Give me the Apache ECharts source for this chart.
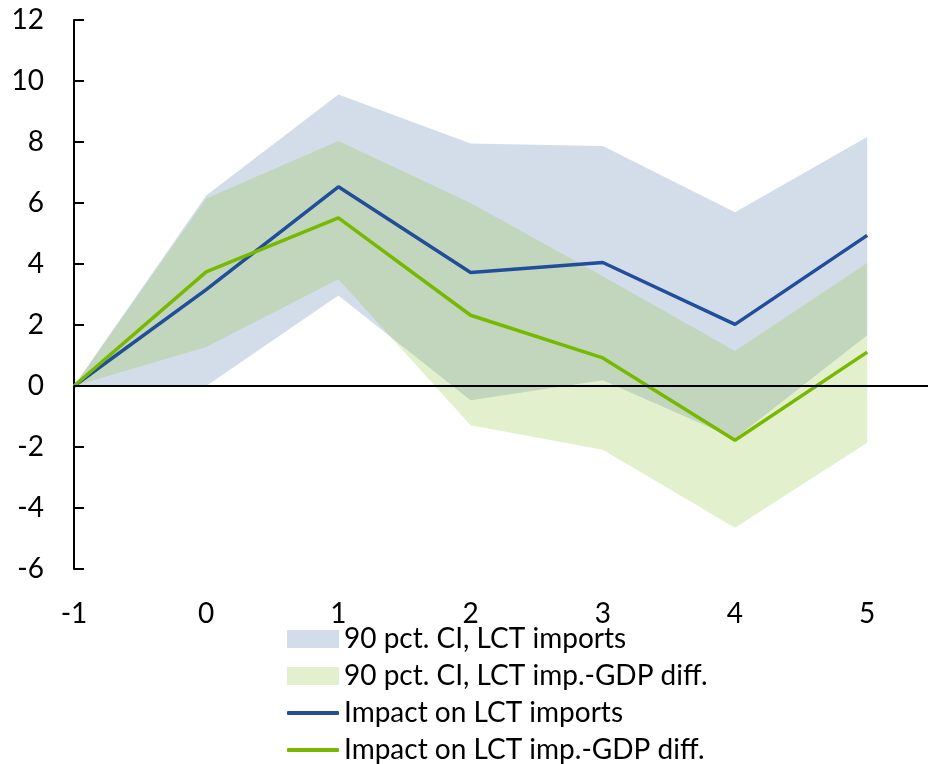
<!DOCTYPE html>
<html>
<head>
<meta charset="utf-8">
<script src="https://cdn.jsdelivr.net/npm/echarts@6/dist/echarts.min.js"></script>
<style>
  html, body { margin: 0; padding: 0; background: #fff; }
  #chart { width: 928px; height: 764px; }
</style>
</head>
<body>
<div id="chart"></div>
<script>
// Horizon (years after the shock)
const horizons = [-1, 0, 1, 2, 3, 4, 5];
const yTicks = [-6, -4, -2, 0, 2, 4, 6, 8, 10, 12];

// Impact on LCT imports and its 90% confidence band
const importsLine  = [0, 3.16, 6.53, 3.72, 4.05, 2.02, 4.94];
const importsUpper = [0, 6.25, 9.56, 7.95, 7.87, 5.70, 8.16];
const importsLower = [0, 0.00, 2.97, -0.47, 0.19, -1.72, 1.66];

// Impact on LCT import-GDP differential and its 90% confidence band
const diffLine  = [0, 3.74, 5.51, 2.32, 0.92, -1.78, 1.11];
const diffUpper = [0, 6.15, 8.03, 6.00, 3.60, 1.15, 4.03];
const diffLower = [0, 1.28, 3.50, -1.29, -2.09, -4.65, -1.86];

const names = [
  '90 pct. CI, LCT imports',
  '90 pct. CI, LCT imp.-GDP diff.',
  'Impact on LCT imports',
  'Impact on LCT imp.-GDP diff.'
];

const BLUE = '#214d9b';
const GREEN = '#78b800';
const BLUE_BAND = '#d3ddea';
const GREEN_BAND = 'rgba(138,192,47,0.24)';
const FONT = 'Lato';
const FS = 28;

const pairs = (ys) => horizons.map((x, i) => [x, ys[i]]);

// A confidence band: one polygon along the upper bound and back along the lower bound
function band(name, lower, upper, color, z) {
  return {
    type: 'custom',
    name: name,
    silent: true,
    z: z,
    itemStyle: { color: color },
    data: horizons.map((x, i) => [x, lower[i], upper[i]]),
    encode: { x: 0, y: [1, 2] },
    renderItem: function (params, api) {
      if (params.dataIndex !== 0) return null;
      const pts = [];
      for (let i = 0; i < horizons.length; i++) pts.push(api.coord([horizons[i], upper[i]]));
      for (let i = horizons.length - 1; i >= 0; i--) pts.push(api.coord([horizons[i], lower[i]]));
      return {
        type: 'polygon',
        shape: { points: pts },
        style: { fill: color, stroke: null }
      };
    }
  };
}

// One legend block per row so each row sits at its own height
const rowTops = [624, 661, 698, 735];
const legendText = { fontFamily: FONT, fontSize: FS, color: '#000', lineHeight: 30 };
const legends = names.map((n, i) => ({
  orient: 'vertical',
  left: 287,
  top: rowTops[i],
  padding: 0,
  itemWidth: 52,
  itemHeight: i < 2 ? 18 : 4,
  selectedMode: false,
  textStyle: legendText,
  data: [{
    name: n,
    icon: i < 2 ? 'rect' : 'roundRect',
    itemStyle: { color: [BLUE_BAND, GREEN_BAND, BLUE, GREEN][i] }
  }]
}));

const chart = echarts.init(document.getElementById('chart'), null, { renderer: 'canvas' });

chart.setOption({
  animation: false,
  backgroundColor: '#ffffff',
  textStyle: { fontFamily: FONT },
  grid: { left: 74, right: 0, top: 20, bottom: 195, containLabel: false },
  legend: legends,
  xAxis: {
    type: 'value',
    min: -1,
    max: 5.46,
    interval: 1,
    axisLine: { show: false },
    axisTick: { show: false },
    splitLine: { show: false },
    axisLabel: {
      fontFamily: FONT, fontSize: FS, color: '#000', margin: 31,
      showMaxLabel: false,
      formatter: (v) => (horizons.indexOf(v) >= 0 ? String(v) : '')
    }
  },
  yAxis: {
    type: 'value',
    min: yTicks[0],
    max: yTicks[yTicks.length - 1],
    interval: 2,
    axisLine: { show: true, onZero: false, lineStyle: { color: '#000', width: 2 } },
    axisTick: { show: true, inside: true, length: 10, lineStyle: { color: '#000', width: 2 } },
    splitLine: { show: false },
    axisLabel: { fontFamily: FONT, fontSize: FS, color: '#000', margin: 30 }
  },
  series: [
    band(names[0], importsLower, importsUpper, BLUE_BAND, 1),
    band(names[1], diffLower, diffUpper, GREEN_BAND, 2),
    {
      type: 'line', name: names[2], data: pairs(importsLine),
      showSymbol: false, symbol: 'none',
      itemStyle: { color: BLUE },
      lineStyle: { color: BLUE, width: 3.5 }, z: 3,
      markLine: {
        silent: true, symbol: 'none', label: { show: false },
        lineStyle: { color: '#000', width: 2, type: 'solid' },
        data: [{ yAxis: 0 }]
      }
    },
    {
      type: 'line', name: names[3], data: pairs(diffLine),
      showSymbol: false, symbol: 'none',
      itemStyle: { color: GREEN },
      lineStyle: { color: GREEN, width: 3.5 }, z: 4
    }
  ]
});
</script>
</body>
</html>
